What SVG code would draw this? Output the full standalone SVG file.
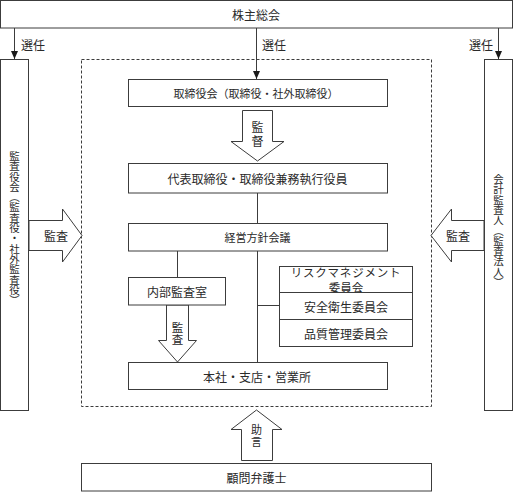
<svg xmlns="http://www.w3.org/2000/svg" width="513" height="492" viewBox="0 0 513 492">
<style>
.box{fill:#fff;stroke:#3c3c3c;stroke-width:1}
.dash{fill:none;stroke:#3c3c3c;stroke-width:1;stroke-dasharray:3 2}
.ln{fill:none;stroke:#3c3c3c;stroke-width:1}
.blk{fill:#fff;stroke:#3c3c3c;stroke-width:1;stroke-linejoin:miter}
.t{font-family:"Noto Sans CJK JP","Noto Sans CJK SC",sans-serif;font-size:12px;fill:#2a2a2a;text-anchor:middle;dominant-baseline:central}
.ts{font-family:"Noto Sans CJK JP","Noto Sans CJK SC",sans-serif;font-size:12px;fill:#2a2a2a;text-anchor:start;dominant-baseline:central}
.v{font-family:"Noto Sans CJK JP","Noto Sans CJK SC",sans-serif;fill:#2a2a2a;text-anchor:middle;writing-mode:vertical-rl}
</style>
<defs>
<marker id="ah" viewBox="0 0 8 8" refX="8" refY="4" markerWidth="8" markerHeight="8" markerUnits="userSpaceOnUse" orient="auto">
<path d="M0,0.5 L8,4 L0,7.5 Z" fill="#1a1a1a"/>
</marker>
</defs>

<g id="scope">
<rect class="dash" x="81.5" y="59.5" width="350" height="347"/>
</g>

<g id="connectors">
<line class="ln" x1="14.5" y1="28" x2="14.5" y2="59" marker-end="url(#ah)"/>
<line class="ln" x1="498.5" y1="28" x2="498.5" y2="59" marker-end="url(#ah)"/>
<line class="ln" x1="256.5" y1="28" x2="256.5" y2="79" marker-end="url(#ah)"/>
<text class="ts" x="21" y="44">選任</text>
<text class="ts" x="262" y="44">選任</text>
<text class="ts" x="469" y="44">選任</text>
<line class="ln" x1="257.5" y1="193" x2="257.5" y2="223"/>
<line class="ln" x1="257.5" y1="251" x2="257.5" y2="362"/>
<line class="ln" x1="257.5" y1="305.5" x2="279" y2="305.5"/>
<line class="ln" x1="177.5" y1="251" x2="177.5" y2="277"/>
<polygon class="blk" points="29,220.5 62.5,220.5 62.5,209 82,235.5 62.5,262 62.5,250.5 29,250.5"/>
<text class="ts" x="44" y="235">監査</text>
<polygon class="blk" points="484,220.5 451.5,220.5 451.5,209 431,235.5 451.5,262 451.5,250.5 484,250.5"/>
<text class="ts" x="446" y="235">監査</text>
<polygon class="blk" points="242.5,110.5 272.5,110.5 272.5,141.5 284,141.5 257.5,161 231,141.5 242.5,141.5"/>
<text class="v" x="257.5" y="135" style="font-size:12px;letter-spacing:2px">監督</text>
<polygon class="blk" points="166.5,305 188.5,305 188.5,340.5 196.5,340.5 177.5,362 158.5,340.5 166.5,340.5"/>
<text class="v" x="177.5" y="333.5" style="font-size:11.5px;letter-spacing:0.5px">監査</text>
<polygon class="blk" points="241.5,460.5 241.5,429.5 231,429.5 256.5,410 282,429.5 272.5,429.5 272.5,460.5"/>
<text class="v" x="256.5" y="436.5" style="font-size:11px;letter-spacing:1px">助言</text>
</g>

<g id="shareholders">
<rect class="box" x="0.5" y="0.5" width="512" height="27.5"/>
<text class="t" x="256" y="14.5">株主総会</text>
</g>

<g id="auditors-board">
<rect class="box" x="0.5" y="59.5" width="28" height="351"/>
<text class="v" x="14.5" y="228" style="font-size:10.5px;letter-spacing:-0.2px">監査役会（監査役・社外監査役）</text>
</g>

<g id="accounting-auditor">
<rect class="box" x="484.5" y="59.5" width="28" height="351"/>
<text class="v" x="498.5" y="230.5" style="font-size:10.5px;letter-spacing:-0.2px">会計監査人（監査法人）</text>
</g>

<g id="board">
<rect class="box" x="128.5" y="79.5" width="259" height="27"/>
<text class="t" x="256" y="93" style="font-size:11px">取締役会（取締役・社外取締役）</text>
</g>

<g id="executives">
<rect class="box" x="128.5" y="163.5" width="259" height="29.5"/>
<text class="t" x="257.5" y="178">代表取締役・取締役兼務執行役員</text>
</g>

<g id="management-council">
<rect class="box" x="128.5" y="223.5" width="259" height="27.5"/>
<text class="t" x="257.5" y="237" style="font-size:11px">経営方針会議</text>
</g>

<g id="internal-audit">
<rect class="box" x="128.5" y="277.5" width="97" height="27.5"/>
<text class="t" x="177" y="291">内部監査室</text>
</g>

<g id="committees">
<rect class="box" x="279.5" y="266.5" width="133" height="26"/>
<text class="t" x="346" y="271.5" style="font-size:11.5px;letter-spacing:0.8px">リスクマネジメント</text>
<text class="t" x="346" y="287" style="font-size:11.5px">委員会</text>
<rect class="box" x="279.5" y="292.5" width="133" height="27"/>
<text class="t" x="346" y="306">安全衛生委員会</text>
<rect class="box" x="279.5" y="319.5" width="133" height="27"/>
<text class="t" x="346" y="333">品質管理委員会</text>
</g>

<g id="offices">
<rect class="box" x="128.5" y="362.5" width="259" height="27"/>
<text class="t" x="257" y="376">本社・支店・営業所</text>
</g>

<g id="lawyer">
<rect class="box" x="81.5" y="463.5" width="350" height="27.5"/>
<text class="t" x="256.5" y="477">顧問弁護士</text>
</g>
</svg>
